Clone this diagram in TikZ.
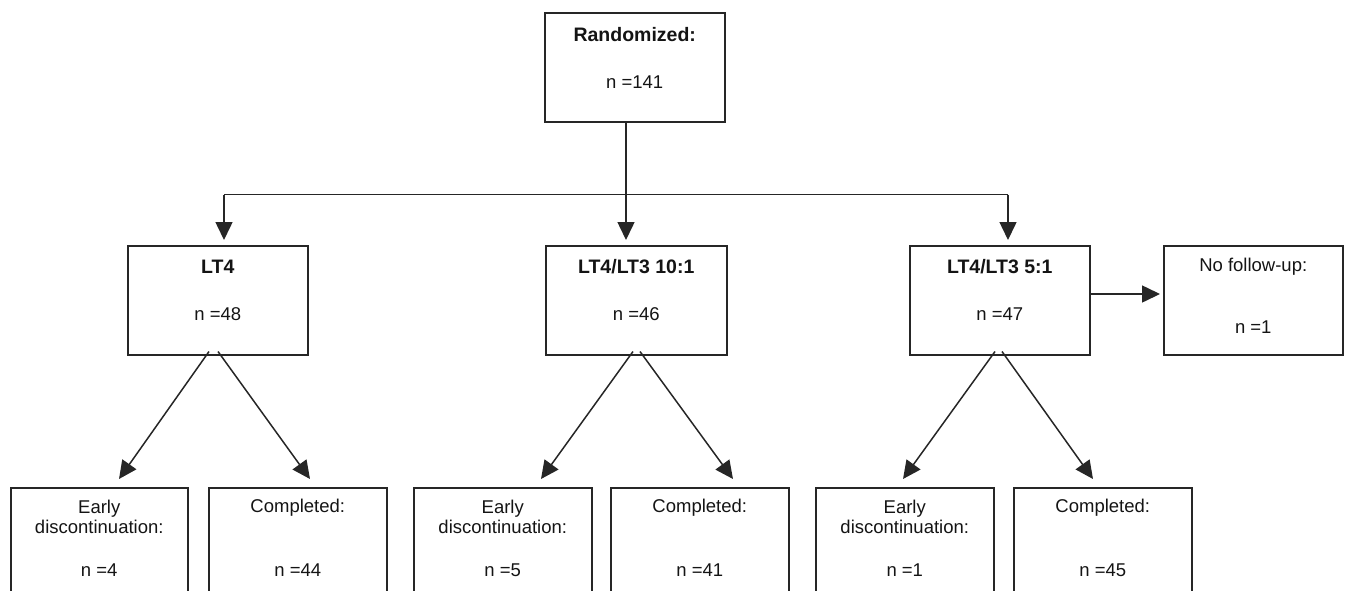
\documentclass[tikz,border=0pt]{standalone}
\usepackage{fontspec}
\setmainfont{Liberation Sans}
\usetikzlibrary{arrows.meta,calc}

\definecolor{ink}{rgb}{0.15,0.15,0.15}

\tikzset{
  box/.style={draw=ink, line width=1.5pt, anchor=north west, inner sep=0pt,
    minimum height=109pt},
  lbl/.style={anchor=base, inner sep=0pt, font=\fontsize{18.5}{20}\selectfont, text=black!92},
  hd/.style={lbl, font=\fontsize{19.5}{22}\selectfont\bfseries},
  link/.style={draw=ink, line width=1.5pt},
  arr/.style={link, -{Triangle[length=18pt,width=17pt]}},
}

\begin{document}
\begin{tikzpicture}[x=1pt, y=-1pt]
\useasboundingbox (0,0) rectangle (1346,590);
\clip (0,0) rectangle (1346,590);

% top box
\node[box, minimum width=180pt] (rnd) at (544,12) {};
\node[hd] (rndA) at ($(rnd.north)+(0,29)$) {Randomized:};
\node[lbl] (rndB) at ($(rnd.north)+(0,76)$) {n =141};

% treatment arms
\node[box, minimum width=180pt] (armA) at (127,245) {};
\node[hd] (armAt) at ($(armA.north)+(0,28)$) {LT4};
\node[lbl] (armAn) at ($(armA.north)+(0,75)$) {n =48};

\node[box, minimum width=181pt] (armB) at (545,245) {};
\node[hd] (armBt) at ($(armB.north)+(0,28)$) {LT4/LT3 10:1};
\node[lbl] (armBn) at ($(armB.north)+(0,75)$) {n =46};

\node[box, minimum width=180pt] (armC) at (909,245) {};
\node[hd] (armCt) at ($(armC.north)+(0,28)$) {LT4/LT3 5:1};
\node[lbl] (armCn) at ($(armC.north)+(0,75)$) {n =47};

\node[box, minimum width=179pt] (nofu) at (1163,245) {};
\node[lbl] (nofut) at ($(nofu.north)+(0,26)$) {No follow-up:};
\node[lbl] (nofun) at ($(nofu.north)+(0,88)$) {n =1};

% outcome boxes (run off the lower edge)
\foreach \nm/\x/\w/\nE in {eA/10/177/4, eB/413/178/5, eC/815/178/1}{
  \node[box, minimum width=\w pt, minimum height=130pt] (\nm) at (\x,487) {};
  \node[lbl] (\nm1) at ($(\nm.north)+(0,26)$) {Early};
  \node[lbl] (\nm2) at ($(\nm.north)+(0,46)$) {discontinuation:};
  \node[lbl] (\nm3) at ($(\nm.north)+(0,89)$) {n =\nE};
}
\foreach \nm/\x/\w/\nC in {cA/208/178/44, cB/610/178/41, cC/1013/178/45}{
  \node[box, minimum width=\w pt, minimum height=130pt] (\nm) at (\x,487) {};
  \node[lbl] (\nm1) at ($(\nm.north)+(0,25)$) {Completed:};
  \node[lbl] (\nm3) at ($(\nm.north)+(0,89)$) {n =\nC};
}

% randomisation split
\coordinate (hub) at ($(rnd.south west)+(82,72)$);
\coordinate (hubL) at ($(hub)+(-402,0)$);
\coordinate (hubR) at ($(hub)+(382,0)$);
\draw[link] (rnd.south -| hub) -- (hub);
\draw[link] (hubL) -- (hubR);
\draw[arr, shorten >=5pt] (hubL) -- (hubL |- armA.north);
\draw[arr, shorten >=5pt] (hub) -- (hub |- armB.north);
\draw[arr, shorten >=5pt] (hubR) -- (hubR |- armC.north);

% lost to follow-up
\draw[arr] ($(armC.north east)+(0,49)$) -- ($(nofu.north west)+(-3,49)$);

% arm outcomes
\draw[arr] ($(armA.south west)+(82,-4)$) -- ($(eA.north west)+(109,-8)$);
\draw[arr] ($(armA.south west)+(91,-4)$) -- ($(cA.north west)+(102,-8)$);
\draw[arr] ($(armB.south west)+(88,-4)$) -- ($(eB.north west)+(128,-8)$);
\draw[arr] ($(armB.south west)+(95,-4)$) -- ($(cB.north west)+(123,-8)$);
\draw[arr] ($(armC.south west)+(86,-4)$) -- ($(eC.north west)+(88,-8)$);
\draw[arr] ($(armC.south west)+(93,-4)$) -- ($(cC.north west)+(80,-8)$);
\end{tikzpicture}
\end{document}
